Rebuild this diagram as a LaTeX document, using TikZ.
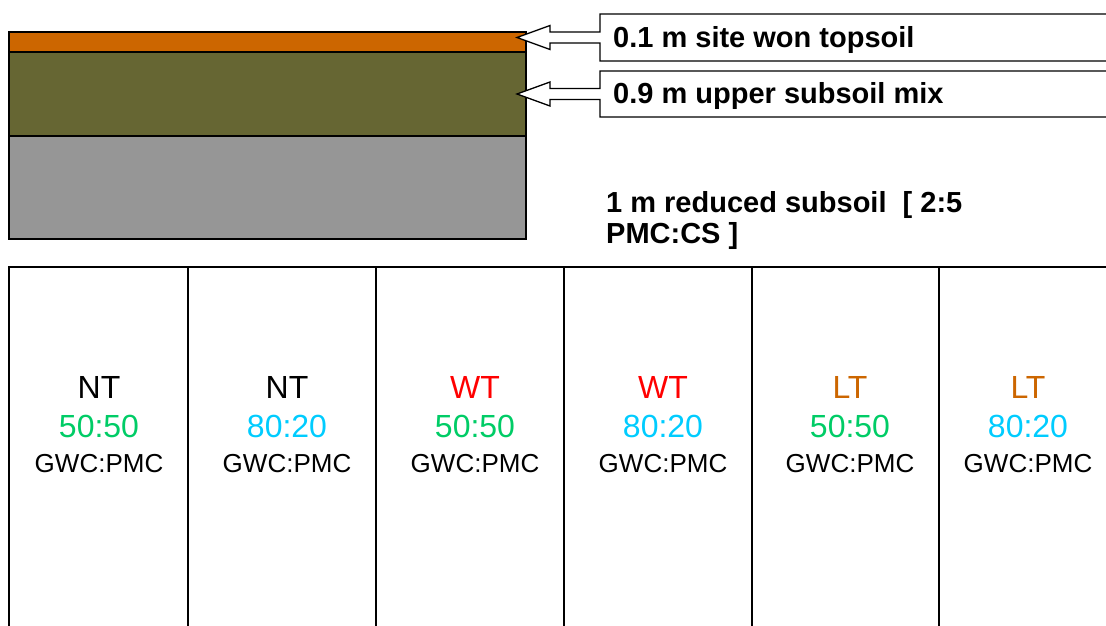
\documentclass[tikz,border=0pt]{standalone}
\usepackage{fontspec}
\setmainfont{Liberation Sans}
\definecolor{topsoil}{RGB}{204,102,0}
\definecolor{uppersub}{RGB}{102,102,51}
\definecolor{redsub}{RGB}{150,150,150}
\definecolor{mixA}{RGB}{0,204,102}
\definecolor{mixB}{RGB}{0,204,255}
\definecolor{wet}{RGB}{255,0,0}
\newcommand{\ratiotxt}{\fontsize{26}{26}\selectfont GWC:PMC}
\begin{document}
\begin{tikzpicture}[x=1pt, y=-1pt,
    layer/.style={draw=black, line width=1.2pt},
    callout/.style={draw=black, fill=white, line width=1.3pt, line join=miter},
    lbl/.style={anchor=west, inner sep=0pt, font=\fontsize{29}{30}\selectfont\bfseries},
    plot/.style={align=center, inner sep=0pt, font=\fontsize{32}{39}\selectfont}
]
\useasboundingbox (0,0) rectangle (1106,626);
\begin{scope}
\clip (0,0) rectangle (1106,626);

% Soil layers
\draw[layer, fill=redsub] (9,136) rectangle (526,239);
\draw[layer, fill=uppersub] (9,52) rectangle (526,136);
\draw[layer, fill=topsoil] (9,32) rectangle (526,52);

% Arrow tips
\coordinate (tipA) at (517,37.5);
\coordinate (tipB) at (517,94);

% Callouts
\draw[callout] (600,14) -- (1120,14) -- (1120,61) -- (600,61) -- (600,43)
    -- (550,43) -- (550,49.5) -- (tipA) -- (550,25.5) -- (550,32) -- (600,32) -- cycle;
\draw[callout] (600,71) -- (1120,71) -- (1120,117) -- (600,117) -- (600,99.5)
    -- (550,99.5) -- (550,106) -- (tipB) -- (550,82) -- (550,88.5) -- (600,88.5) -- cycle;
\node[lbl] (topA) at (613,40) {0.1 m site won topsoil};
\node[lbl] (topB) at (613,96) {0.9 m upper subsoil mix};
\node[lbl, align=left, font=\fontsize{29}{31}\selectfont\bfseries, anchor=north west]
    (redA) at (606,191) {1 m reduced subsoil\ \ [ 2:5\\PMC:CS ]};

% Plots
\draw[line width=1.5pt] (9,640) -- (9,267) -- (1120,267);
\foreach \x in {188,376,564,752,939}
    \draw[line width=1.5pt] (\x,267) -- (\x,640);

\foreach \x/\tr/\trc/\rat/\ratc/\n in {99/NT/black/50:50/mixA/1, 287/NT/black/80:20/mixB/2,
    475/WT/wet/50:50/mixA/3, 663/WT/wet/80:20/mixB/4,
    850/LT/topsoil/50:50/mixA/5, 1028/LT/topsoil/80:20/mixB/6}
    \node[plot] (p\n) at (\x,425) {\textcolor{\trc}{\tr}\\\textcolor{\ratc}{\rat}\\[-4pt]\ratiotxt};
\end{scope}
\end{tikzpicture}
\end{document}
